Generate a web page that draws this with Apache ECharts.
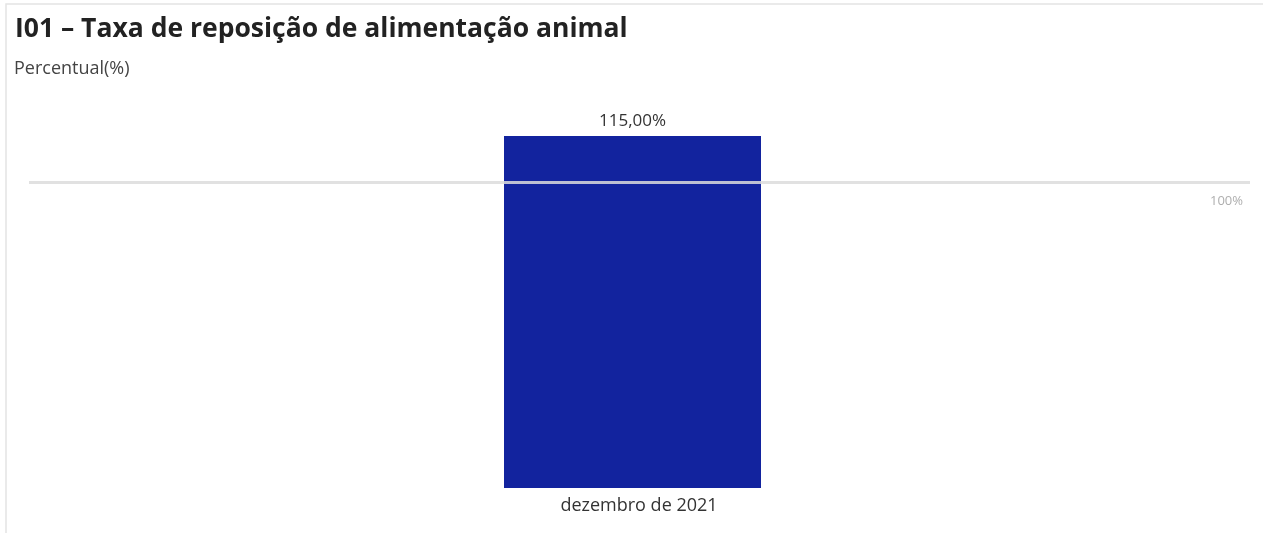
<!DOCTYPE html>
<html>
<head>
<meta charset="utf-8">
<script src="https://cdn.jsdelivr.net/npm/echarts@6/dist/echarts.min.js"></script>
<style>
html,body{margin:0;padding:0;background:#fff;}
#c{width:1263px;height:533px;}
</style>
</head>
<body>
<div id="c"></div>
<script>
const titleText = 'I01 – Taxa de reposição de alimentação animal';
const subtitleText = 'Percentual(%)';
const categories = ['dezembro de 2021'];
const values = [115];
const referenceValue = 100;

const chart = echarts.init(document.getElementById('c'), null, {renderer: 'canvas'});
chart.setOption({
  animation: false,
  backgroundColor: '#fff',
  title: [{
    text: titleText,
    left: 10, top: 11,
    textStyle: {fontFamily: 'Open Sans', fontWeight: 'bold', fontSize: 26.5, color: '#222'}
  }, {
    text: subtitleText,
    left: 9, top: 55,
    textStyle: {fontFamily: 'Open Sans', fontWeight: 'normal', fontSize: 18, color: '#444'}
  }],
  graphic: [{
    type: 'rect',
    shape: {x: 6, y: 4, width: 1400, height: 700},
    style: {fill: 'none', stroke: '#e4e4e4', lineWidth: 1.5},
    silent: true
  }],
  grid: [
    {left: 15, right: 13, top: 136, bottom: 45},
    {left: 29, right: 13, top: 136, bottom: 45}
  ],
  xAxis: [{
    type: 'category',
    gridIndex: 0,
    data: categories,
    axisLine: {show: false},
    axisTick: {show: false},
    axisLabel: {fontFamily: 'Open Sans', fontSize: 18, color: '#333', margin: 9, padding: [0, 0, 0, 13]}
  }, {
    type: 'value',
    gridIndex: 1,
    min: 0, max: 1,
    show: false,
    splitLine: {show: false}
  }],
  yAxis: [{
    type: 'value',
    gridIndex: 0,
    min: 0, max: 115,
    show: false,
    splitLine: {show: false}
  }, {
    type: 'value',
    gridIndex: 1,
    min: 0, max: 115,
    show: false,
    splitLine: {show: false}
  }],
  series: [{
    type: 'bar',
    xAxisIndex: 0, yAxisIndex: 0,
    data: values,
    barWidth: 257,
    itemStyle: {color: '#12239E'},
    label: {
      show: true, position: 'top', distance: 6,
      fontFamily: 'Open Sans', fontSize: 17, color: '#333',
      formatter: p => p.value.toFixed(2).replace('.', ',') + '%'
    }
  }, {
    type: 'line',
    xAxisIndex: 1, yAxisIndex: 1,
    data: [],
    markLine: {
      silent: true,
      symbol: 'none',
      lineStyle: {color: '#dcdcdc', width: 3, type: 'solid', opacity: 0.85},
      label: {
        show: true, position: 'insideEndBottom', distance: [7, 13],
        fontFamily: 'Open Sans', fontSize: 13, color: '#a0a0a0',
        formatter: referenceValue + '%'
      },
      data: [{yAxis: referenceValue}]
    }
  }]
});
</script>
</body>
</html>
